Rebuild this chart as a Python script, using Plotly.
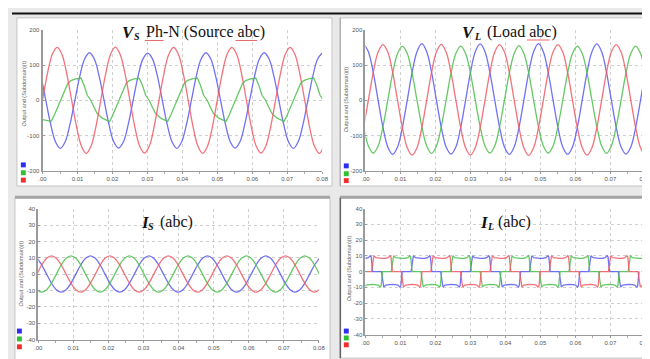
import plotly.graph_objects as go

W, H = 650, 359

# ---------------- axis labels ----------------
x_tickvals = [0.0, 0.01, 0.02, 0.03, 0.04, 0.05, 0.06, 0.07, 0.08]
x_ticktext = [".00", "0.01", "0.02", "0.03", "0.04", "0.05", "0.06", "0.07", "0.08"]
x_minorvals = [0.005, 0.015, 0.025, 0.035, 0.045, 0.055, 0.065, 0.075]
v_tickvals = [-200, -100, 0, 100, 200]
v_ticktext = ["-200", "-100", "0", "100", "200"]
i_tickvals = [-40, -30, -20, -10, 0, 10, 20, 30, 40]
i_ticktext = ["-40", "-30", "-20", "-10", "0", "10", "20", "30", "40"]
y_title = "Output and (Subdomain)(t)"

# panel titles: (symbol, subscript, rest)
panel_titles = [("V", "S", "Ph-N (Source abc)"), ("V", "L", "(Load abc)"), ("I", "S", "(abc)"), ("I", "L", "(abc)")]

# ---------------- Panel 1: V_S Ph-N (source abc) ----------------
vs_red_t = [0.0, 0.00139, 0.00278, 0.00417, 0.00556, 0.00694, 0.00833, 0.00972, 0.01111, 0.0125, 0.01389, 0.01528,
            0.01667, 0.01806, 0.01944, 0.02083, 0.02222, 0.02361, 0.025, 0.02639, 0.02778, 0.02917, 0.03056, 0.03194,
            0.03333, 0.03472, 0.03611, 0.0375, 0.03889, 0.04028, 0.04167, 0.04306, 0.04444, 0.04583, 0.04722, 0.04861,
            0.05, 0.05139, 0.05278, 0.05417, 0.05556, 0.05694, 0.05833, 0.05972, 0.06111, 0.0625, 0.06389, 0.06528,
            0.06667, 0.06806, 0.06944, 0.07083, 0.07222, 0.07361, 0.075, 0.07639, 0.07778, 0.07917, 0.08056]
vs_red_v = [0, 75, 130, 150, 130, 75, 0, -75, -130, -151, -130, -75,
            0, 75, 130, 151, 130, 75, 0, -75, -130, -150, -130, -75,
            0, 75, 130, 150, 130, 75, 0, -75, -130, -151, -130, -75,
            0, 75, 130, 150, 130, 75, 0, -75, -130, -150, -130, -75,
            0, 75, 130, 150, 130, 75, 0, -75, -130, -151, -130]

vs_blue_t = [-0.00324, -0.00185, -0.00046, 0.00093, 0.00232, 0.00370, 0.00509, 0.00648, 0.00787, 0.00926, 0.01065, 0.01204,
             0.01343, 0.01482, 0.01621, 0.01760, 0.01899, 0.02037, 0.02176, 0.02315, 0.02454, 0.02593, 0.02732, 0.02871,
             0.03010, 0.03149, 0.03288, 0.03426, 0.03565, 0.03704, 0.03843, 0.03982, 0.04121, 0.04260, 0.04398, 0.04537,
             0.04676, 0.04815, 0.04954, 0.05093, 0.05232, 0.05371, 0.05509, 0.05648, 0.05787, 0.05926, 0.06065, 0.06204,
             0.06343, 0.06482, 0.06621, 0.06759, 0.06898, 0.07037, 0.07176, 0.07315, 0.07454, 0.07593, 0.07732, 0.07870,
             0.08009]
vs_blue_v = [135, 117, 68, 0, -68, -118, -137, -118, -68, 0, 68, 117,
             135, 117, 68, 0, -68, -118, -136, -118, -68, 0, 68, 117,
             134, 117, 68, 0, -68, -118, -137, -118, -68, 0, 68, 117,
             135, 117, 68, 0, -68, -118, -136, -118, -68, 0, 68, 117,
             135, 117, 68, 0, -68, -118, -137, -118, -68, 0, 68, 117,
             135]

vs_green_t = [0.0, 0.0012,
              0.0025, 0.0034, 0.0044, 0.0053, 0.0063, 0.0072, 0.0081, 0.0095, 0.0110, 0.0119, 0.0128, 0.0138, 0.0147, 0.0156, 0.0171,
              0.0192, 0.0201, 0.0211, 0.0220, 0.0230, 0.0239, 0.0248, 0.0262, 0.0277, 0.0286, 0.0295, 0.0305, 0.0314, 0.0323, 0.0338,
              0.0358, 0.0367, 0.0377, 0.0386, 0.0396, 0.0405, 0.0414, 0.0428, 0.0443, 0.0452, 0.0461, 0.0471, 0.0480, 0.0489, 0.0504,
              0.0525, 0.0534, 0.0544, 0.0553, 0.0563, 0.0572, 0.0581, 0.0595, 0.0610, 0.0619, 0.0628, 0.0638, 0.0647, 0.0656, 0.0671,
              0.0691, 0.0700, 0.0710, 0.0719, 0.0729, 0.0738, 0.0747, 0.0761, 0.0776, 0.0785, 0.0794, 0.0804]
vs_green_v = [-55, -58,
              -60, -42, -19, 0, 23, 47, 56, 61, 63, 42, 14, 0, -19, -37, -51,
              -61, -42, -19, 0, 23, 47, 56, 61, 62, 42, 14, 0, -19, -37, -51,
              -60, -42, -19, 0, 23, 47, 56, 61, 63, 42, 14, 0, -19, -37, -51,
              -60, -42, -19, 0, 23, 47, 56, 61, 63, 42, 14, 0, -19, -37, -51,
              -60, -42, -19, 0, 23, 47, 56, 61, 63, 42, 14, 0]

# ---------------- Panel 2: V_L (load abc) ----------------
vl_t = [-0.00056, 0.00083, 0.00222, 0.00361, 0.00500, 0.00638, 0.00777, 0.00916, 0.01055, 0.01194, 0.01333, 0.01472,
        0.01611, 0.01750, 0.01889, 0.02027, 0.02166, 0.02305, 0.02444, 0.02583, 0.02722, 0.02861, 0.03000, 0.03138,
        0.03277, 0.03416, 0.03555, 0.03694, 0.03833, 0.03972, 0.04111, 0.04250, 0.04388, 0.04527, 0.04666, 0.04805,
        0.04944, 0.05083, 0.05222, 0.05361, 0.05500, 0.05638, 0.05777, 0.05916, 0.06055, 0.06194, 0.06333, 0.06472,
        0.06611, 0.06750, 0.06888, 0.07027, 0.07166, 0.07305, 0.07444, 0.07583, 0.07722, 0.07861, 0.08000, 0.08138]
vl_blue = [160, 138, 79, 0, -77, -133, -154, -133, -77, 0, 79, 138,
           161, 138, 79, 0, -77, -133, -153, -133, -77, 0, 79, 138,
           160, 138, 79, 0, -77, -133, -154, -133, -77, 0, 79, 138,
           161, 138, 79, 0, -77, -133, -154, -133, -77, 0, 79, 138,
           160, 138, 79, 0, -77, -133, -153, -133, -77, 0, 79, 138]
vl_red = [-78, 0, 79, 137, 158, 137, 79, 0, -78, -135, -156, -135,
          -78, 0, 79, 137, 159, 137, 79, 0, -78, -135, -156, -135,
          -78, 0, 79, 137, 158, 137, 79, 0, -78, -135, -157, -135,
          -78, 0, 79, 137, 158, 137, 79, 0, -78, -135, -156, -135,
          -78, 0, 79, 137, 158, 137, 79, 0, -78, -135, -156, -135]
vl_green = [-75, -130, -150, -130, -75, 0, 77, 133, 154, 133, 77, 0,
            -75, -130, -151, -130, -75, 0, 77, 133, 154, 133, 77, 0,
            -75, -130, -150, -130, -75, 0, 77, 133, 155, 133, 77, 0,
            -75, -130, -150, -130, -75, 0, 77, 133, 154, 133, 77, 0,
            -75, -130, -151, -130, -75, 0, 77, 133, 154, 133, 77, 0]

# ---------------- Panel 3: I_S (abc) ----------------
is_t = [-0.00180, -0.00041, 0.00098, 0.00237, 0.00376, 0.00514, 0.00653, 0.00792, 0.00931, 0.01070, 0.01209, 0.01348,
        0.01487, 0.01626, 0.01765, 0.01903, 0.02042, 0.02181, 0.02320, 0.02459, 0.02598, 0.02737, 0.02876, 0.03014,
        0.03153, 0.03292, 0.03431, 0.03570, 0.03709, 0.03848, 0.03987, 0.04126, 0.04264, 0.04403, 0.04542, 0.04681,
        0.04820, 0.04959, 0.05098, 0.05237, 0.05376, 0.05514, 0.05653, 0.05792, 0.05931, 0.06070, 0.06209, 0.06348,
        0.06487, 0.06626, 0.06764, 0.06903, 0.07042, 0.07181, 0.07320, 0.07459, 0.07598, 0.07737, 0.07876, 0.08014]
is_blue = [11.2, 9.7, 5.6, 0, -5.5, -9.5, -11, -9.5, -5.5, 0, 5.6, 9.7,
           11.2, 9.7, 5.6, 0, -5.5, -9.5, -11, -9.5, -5.5, 0, 5.6, 9.7,
           11.2, 9.7, 5.6, 0, -5.5, -9.5, -11, -9.5, -5.5, 0, 5.6, 9.7,
           11.2, 9.7, 5.6, 0, -5.5, -9.5, -11, -9.5, -5.5, 0, 5.6, 9.7,
           11.2, 9.7, 5.6, 0, -5.5, -9.5, -11, -9.5, -5.5, 0, 5.6, 9.7]
is_red = [-5.5, 0, 5.6, 9.7, 11.2, 9.7, 5.6, 0, -5.5, -9.5, -11, -9.5,
          -5.5, 0, 5.6, 9.7, 11.2, 9.7, 5.6, 0, -5.5, -9.5, -11, -9.5,
          -5.5, 0, 5.6, 9.7, 11.2, 9.7, 5.6, 0, -5.5, -9.5, -11, -9.5,
          -5.5, 0, 5.6, 9.7, 11.2, 9.7, 5.6, 0, -5.5, -9.5, -11, -9.5,
          -5.5, 0, 5.6, 9.7, 11.2, 9.7, 5.6, 0, -5.5, -9.5, -11, -9.5]
is_green = [-5.5, -9.5, -11, -9.5, -5.5, 0, 5.6, 9.7, 11.2, 9.7, 5.6, 0,
            -5.5, -9.5, -11, -9.5, -5.5, 0, 5.6, 9.7, 11.2, 9.7, 5.6, 0,
            -5.5, -9.5, -11, -9.5, -5.5, 0, 5.6, 9.7, 11.2, 9.7, 5.6, 0,
            -5.5, -9.5, -11, -9.5, -5.5, 0, 5.6, 9.7, 11.2, 9.7, 5.6, 0,
            -5.5, -9.5, -11, -9.5, -5.5, 0, 5.6, 9.7, 11.2, 9.7, 5.6, 0]

# ---------------- Panel 4: I_L (abc), six-step load currents ----------------
il_top_edges = [-0.0037, 0.0019, 0.00754, 0.01318, 0.01882, 0.02446, 0.0301, 0.03574, 0.04138, 0.04702,
                0.05266, 0.0583, 0.06394, 0.06958, 0.07522, 0.08086]
il_top_phase = ["blue", "red", "green", "blue", "red", "green", "blue", "red", "green",
                "blue", "red", "green", "blue", "red", "green"]
il_bot_edges = [-0.00656, -0.00092, 0.00472, 0.01036, 0.016, 0.02164, 0.02728, 0.03292, 0.03856, 0.0442,
                0.04984, 0.05548, 0.06112, 0.06676, 0.0724, 0.07804, 0.08368]
il_bot_phase = ["red", "green", "blue", "red", "green", "blue", "red", "green", "blue",
                "red", "green", "blue", "red", "green", "blue", "red"]
il_top_edge_level, il_top_mid_level = 10.0, 8.4
il_bot_edge_level, il_bot_mid_level = -9.8, -8.2

# ---------------- styling ----------------
COL = {"blue": "rgb(90,90,242)", "green": "rgb(76,192,76)", "red": "rgb(242,90,100)"}
SQ = {"blue": "#2e2ef0", "green": "#2ec02e", "red": "#f02e2e"}


def il_points(phase):
    segs = []
    for i, p in enumerate(il_top_phase):
        if p == phase:
            segs.append((il_top_edges[i], il_top_edges[i + 1], il_top_edge_level, il_top_mid_level))
    for i, p in enumerate(il_bot_phase):
        if p == phase:
            segs.append((il_bot_edges[i], il_bot_edges[i + 1], il_bot_edge_level, il_bot_mid_level))
    segs.sort()
    xs, ys = [], []
    for a, b, e, m in segs:
        mid = (a + b) / 2
        q = m + 0.25 * (e - m)
        xs += [a - 0.00015, a + 0.0001, a + 0.00025, a + 0.0005, a + 0.0011, a + 0.0018, mid,
               b - 0.0018, b - 0.0011, b - 0.0005, b - 0.00025, b - 0.0001, b + 0.00015]
        ys += [0, 0.55 * e, 0.92 * e, e, q, m + 0.05 * (e - m), m,
               m + 0.05 * (e - m), q, e, 0.92 * e, 0.55 * e, 0]
    return xs, ys


def px(x):
    return x / W


def py(y):
    return 1 - y / H


fig = go.Figure()


def add_line(x, y, color, axis, shape="spline"):
    line = dict(color=COL[color], width=1.3, shape=shape)
    if shape == "spline":
        line["smoothing"] = 1.0
    fig.add_trace(go.Scatter(x=x, y=y, mode="lines", xaxis=axis[0], yaxis=axis[1], line=line,
                             opacity=0.85, hoverinfo="skip", showlegend=False))


add_line(vs_blue_t, vs_blue_v, "blue", ("x", "y"))
add_line(vs_green_t, vs_green_v, "green", ("x", "y"), "linear")
add_line(vs_red_t, vs_red_v, "red", ("x", "y"))

add_line(vl_t, vl_blue, "blue", ("x2", "y2"))
add_line(vl_t, vl_green, "green", ("x2", "y2"))
add_line(vl_t, vl_red, "red", ("x2", "y2"))

add_line(is_t, is_blue, "blue", ("x3", "y3"))
add_line(is_t, is_green, "green", ("x3", "y3"))
add_line(is_t, is_red, "red", ("x3", "y3"))

for ph in ["blue", "green", "red"]:
    xs, ys = il_points(ph)
    add_line(xs, ys, ph, ("x4", "y4"), "linear")

# panel geometry in pixels
plot_px = {
    1: dict(x=(31, 315), y=(19.2, 162.3)),
    2: dict(x=(359, 643.3), y=(19.2, 162.3)),
    3: dict(x=(26.7, 311.7), y=(201, 334.3)),
    4: dict(x=(359, 643.3), y=(201, 329)),
}

TICKFONT = dict(size=6, color="#555", family="Liberation Sans")


def xax(n):
    g = plot_px[n]
    return dict(domain=[px(g["x"][0]), px(g["x"][1])], range=[0, 0.08], anchor="y" if n == 1 else "y%d" % n,
                tickmode="array", tickvals=x_tickvals, ticktext=x_ticktext, tickfont=TICKFONT,
                showgrid=True, gridcolor="#cfcfcf", griddash="dot", gridwidth=1,
                showline=True, linecolor="#9a9a9a", linewidth=1, zeroline=False,
                ticks="outside", ticklen=2, tickcolor="#9a9a9a",
                minor=dict(tickvals=x_minorvals, ticks="outside", ticklen=2, tickcolor="#aaaaaa", showgrid=False),
                fixedrange=True)


def yax(n, vals, text, rng):
    g = plot_px[n]
    return dict(domain=[py(g["y"][1]), py(g["y"][0])], range=rng, anchor="x" if n == 1 else "x%d" % n,
                tickmode="array", tickvals=vals, ticktext=text, tickfont=TICKFONT,
                showgrid=True, gridcolor="#cfcfcf", griddash="dot", gridwidth=1,
                showline=True, linecolor="#9a9a9a", linewidth=2, zeroline=False,
                ticks="inside", ticklen=2, tickcolor="#9a9a9a", fixedrange=True)


shapes = []
# background panels
for (x0, x1, y0, y1) in [(5, 325, 7, 178), (333, 648, 7, 178), (3, 323, 190, 355), (333, 648, 190, 353)]:
    shapes.append(dict(type="rect", xref="paper", yref="paper", x0=px(x0), x1=px(x1), y0=py(y1), y1=py(y0),
                       fillcolor="white", line=dict(color="#c4c4c4", width=1), layer="below"))
# frame decorations
shapes.append(dict(type="line", xref="paper", yref="paper", x0=0, x1=px(648), y0=py(2.5), y1=py(2.5),
                   line=dict(color="#111", width=2)))
for (x0, x1) in [(3, 323), (333, 648)]:
    shapes.append(dict(type="line", xref="paper", yref="paper", x0=px(x0), x1=px(x1), y0=py(189.5), y1=py(189.5),
                       line=dict(color="#a6a6a6", width=3)))
shapes.append(dict(type="line", xref="paper", yref="paper", x0=px(333.5), x1=px(333.5), y0=py(353), y1=py(190),
                   line=dict(color="#666", width=1.5)))
shapes.append(dict(type="line", xref="paper", yref="paper", x0=px(333.5), x1=px(333.5), y0=py(178), y1=py(7),
                   line=dict(color="#aaa", width=1)))

# legend colour squares
sq_pos = {1: (9, [154, 162, 169.5]), 2: (337, [155, 163, 170]), 3: (5, [323, 331, 339]), 4: (337, [323, 330, 337])}
for n, (x0, ys) in sq_pos.items():
    for ph, y0 in zip(["blue", "green", "red"], ys):
        shapes.append(dict(type="rect", xref="paper", yref="paper", x0=px(x0), x1=px(x0 + 5), y0=py(y0 + 5), y1=py(y0),
                           fillcolor=SQ[ph], line=dict(width=0)))

# red spell-check underlines in titles
for (x0, x1, y0) in [(135, 154, 30), (227, 249, 30), (523, 546, 29.5)]:
    shapes.append(dict(type="line", xref="paper", yref="paper", x0=px(x0), x1=px(x1), y0=py(y0), y1=py(y0),
                       line=dict(color="rgba(225,80,80,0.85)", width=1)))

# titles built from separate text pieces: (x of symbol, x of subscript, x of rest, y centre)
title_pos = [(111, 123, 135, 21.5), (456, 468, 481, 21.5), (130, 137, 149, 215), (474, 481, 493, 215)]
annotations = []
for (sym, sub, rest), (xs_, xb_, xr_, yc) in zip(panel_titles, title_pos):
    annotations.append(dict(text=sym, x=px(xs_), y=py(yc), xanchor="left", yanchor="middle",
                            font=dict(family="Liberation Serif", size=17, color="#111", weight="bold", style="italic")))
    annotations.append(dict(text=sub, x=px(xb_), y=py(yc + 4), xanchor="left", yanchor="middle",
                            font=dict(family="Liberation Serif", size=10, color="#111", weight="bold", style="italic")))
    annotations.append(dict(text=rest, x=px(xr_), y=py(yc), xanchor="left", yanchor="middle",
                            font=dict(family="Liberation Serif", size=16, color="#111")))
for a in annotations:
    a.update(xref="paper", yref="paper", showarrow=False, borderpad=0)
for (x, y) in [(12, 84), (340, 90), (9, 267), (342, 262)]:
    annotations.append(dict(text=y_title, x=px(x), y=py(y), xref="paper", yref="paper", showarrow=False,
                            textangle=-90, font=dict(size=5.5, color="#666", family="Liberation Sans"),
                            xanchor="center", yanchor="middle"))

fig.update_layout(
    width=W, height=H, margin=dict(l=0, r=0, t=0, b=0),
    paper_bgcolor="#e9e9e9", plot_bgcolor="white", showlegend=False,
    xaxis=xax(1), xaxis2=xax(2), xaxis3=xax(3), xaxis4=xax(4),
    yaxis=yax(1, v_tickvals, v_ticktext, [-200, 200]),
    yaxis2=yax(2, v_tickvals, v_ticktext, [-200, 200]),
    yaxis3=yax(3, i_tickvals, i_ticktext, [-40, 40]),
    yaxis4=yax(4, i_tickvals, i_ticktext, [-40, 40]),
    shapes=shapes, annotations=annotations,
)

fig.write_html("out.html")
